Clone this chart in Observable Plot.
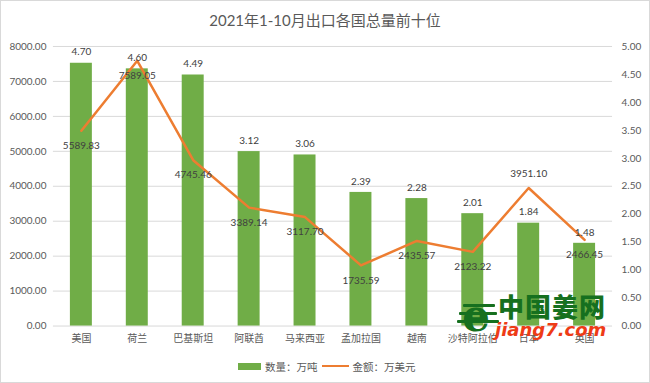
<!DOCTYPE html>
<html>
<head>
<meta charset="utf-8">
<script src="https://cdn.jsdelivr.net/npm/d3@7"></script>
<script src="https://cdn.jsdelivr.net/npm/@observablehq/plot@0.6"></script>
<style>
  html, body { margin: 0; padding: 0; background: #fff; }
  body { font-family: Lato, "Noto Sans CJK SC", sans-serif; }
  #wrap { position: relative; width: 648px; height: 381px; border: 1px solid #d9d9d9; overflow: hidden; }
  #title { position: absolute; left: 0; top: 8px; width: 648px; text-align: center; font-size: 15px; color: #595959; }
  #chart { position: absolute; left: -1px; top: 35px; }
  #legend { position: absolute; left: 237px; top: 357px; height: 16px; display: flex; align-items: center; font-size: 10.5px; color: #595959; white-space: nowrap; }
  .sw-bar { display: inline-block; width: 23px; height: 7px; background: #70AD47; margin-right: 4px; }
  .sw-line { display: inline-block; width: 27px; height: 2.5px; background: #ED7D31; margin: 0 4px 0 4px; }
  #wm1 { position: absolute; left: 497px; top: 289px; font-family: "Noto Sans CJK SC"; font-weight: 900; font-size: 26px; color: #16701f; letter-spacing: 1px; line-height: 1.2; }
  #wm2 { position: absolute; left: 494px; top: 318px; font-family: "DejaVu Sans"; font-weight: bold; font-style: italic; font-size: 18px; color: #ee3b16; }
  #wme { position: absolute; left: 461px; top: 293px; font-family: "DejaVu Serif"; font-weight: bold; font-size: 44px; color: #16701f; line-height: 1; }
  .wmbar { position: absolute; height: 3px; background: #16701f; border-radius: 1px; }
</style>
</head>
<body>
<div id="wrap">
  <div id="title">2021年1-10月出口各国总量前十位</div>
  <div id="chart"></div>
  <div id="legend"><span class="sw-bar"></span><span>数量：万吨</span><span class="sw-line"></span><span>金额：万美元</span></div>
  <div class="wmbar" style="left:462px;top:303px;width:32px"></div>
  <div class="wmbar" style="left:458px;top:311px;width:38px"></div>
  <div class="wmbar" style="left:456px;top:319px;width:42px"></div>
  <div id="wme">e</div>
  <div id="wm1">中国姜网</div>
  <div id="wm2">jiang7.com</div>
</div>
<script>
const countries = ["美国", "荷兰", "巴基斯坦", "阿联酋", "马来西亚", "孟加拉国", "越南", "沙特阿拉伯", "日本", "英国"];
const quantity = [4.70, 4.60, 4.49, 3.12, 3.06, 2.39, 2.28, 2.01, 1.84, 1.48];   // 数量：万吨 (right axis)
const amount = [5589.83, 7589.05, 4745.46, 3389.14, 3117.70, 1735.59, 2435.57, 2123.22, 3951.10, 2466.45]; // 金额：万美元 (left axis)
const leftTicks = [0, 1000, 2000, 3000, 4000, 5000, 6000, 7000, 8000];
const rightTicks = [0, 0.5, 1, 1.5, 2, 2.5, 3, 3.5, 4, 4.5, 5];

const leftMax = 8000, rightMax = 5;
const k = leftMax / rightMax;
const data = countries.map((c, i) => ({country: c, q: quantity[i], v: amount[i]}));

const plot = Plot.plot({
  width: 650,
  height: 314,
  marginLeft: 53,
  marginRight: 37,
  marginTop: 10,
  marginBottom: 24,
  style: {fontFamily: 'Lato, "Noto Sans CJK SC", sans-serif', fontSize: "10px", color: "#595959", background: "transparent"},
  x: {domain: countries, paddingInner: 0.6, paddingOuter: 0.3, label: null},
  y: {domain: [0, leftMax], label: null},
  marks: [
    Plot.gridY(leftTicks, {stroke: "#d9d9d9", strokeOpacity: 1}),
    Plot.axisY(leftTicks, {tickSize: 0, tickPadding: 7, tickFormat: d => d.toFixed(2), label: null}),
    Plot.axisY(rightTicks.map(t => t * k), {anchor: "right", tickSize: 0, tickPadding: 9, tickFormat: d => (d / k).toFixed(2), label: null}),
    Plot.axisX({tickSize: 0, tickPadding: 9, label: null}),
    Plot.barY(data, {x: "country", y: d => d.q * k, fill: "#70AD47"}),
    Plot.line(data, {x: "country", y: "v", stroke: "#ED7D31", strokeWidth: 2.5, strokeLinejoin: "round"}),
    Plot.text(data, {x: "country", y: d => d.q * k, text: d => d.q.toFixed(2), dy: -11, fill: "#404040", fontSize: 10}),
    Plot.text(data.filter(d => d.country !== "日本"), {x: "country", y: "v", text: d => d.v.toFixed(2), dy: 15, fill: "#404040", fontSize: 10}),
    Plot.text(data.filter(d => d.country === "日本"), {x: "country", y: "v", text: d => d.v.toFixed(2), dy: -14, fill: "#404040", fontSize: 10})
  ]
});
document.getElementById("chart").appendChild(plot);
</script>
</body>
</html>
